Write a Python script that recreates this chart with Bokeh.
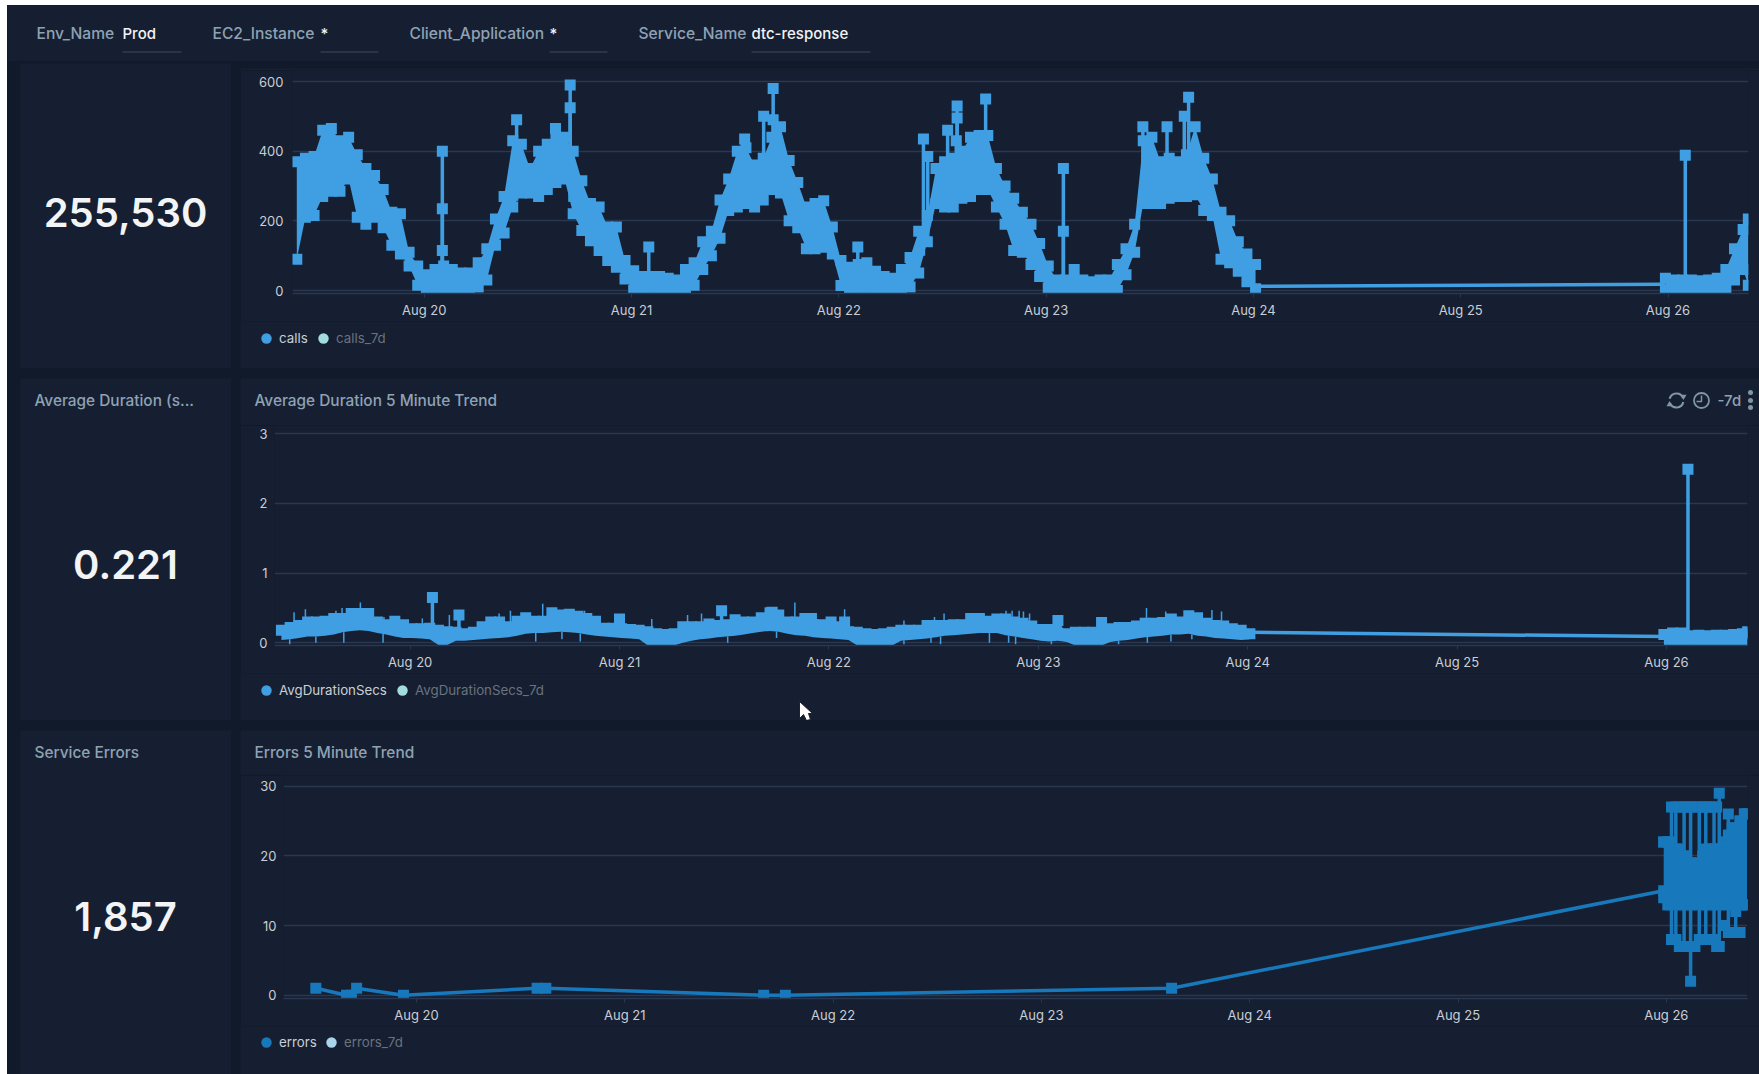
from datetime import datetime, timedelta
import numpy as np
from bokeh.embed import file_html
from bokeh.resources import INLINE
from bokeh.layouts import column, row
from bokeh.models import (Range1d, Label, FixedTicker, DatetimeTickFormatter, Legend, LegendItem)
from bokeh.plotting import figure

# ---- chart values ----
FILTER_NAMES = ["Env_Name", "EC2_Instance", "Client_Application", "Service_Name"]
FILTER_VALUES = ["Prod", "*", "*", "dtc-response"]
DAYS = [20, 21, 22, 23, 24, 25, 26]
STAT_VALUES = ["255,530", "0.221", "1,857"]

# hourly readings, first at Aug 19 09:15
calls_hi = [370,380,385,460,465,430,440,390,350,330,290,225,220,110,70,
 45,60,70,60,50,50,80,120,205,270,430,420,350,400,420,440,440,400,315,250,240,182,182,86,
 57,40,40,40,35,30,60,80,140,170,260,320,400,410,360,380,440,470,373,310,240,250,258,182,86,
 67,75,80,55,40,35,60,95,170,215,350,370,380,400,440,445,445,350,300,265,225,190,135,70,
 30,30,60,30,25,30,30,75,120,190,430,440,370,380,370,390,470,380,320,225,200,140,105,75,20][:112]
calls_lo = [90,210,215,270,285,285,320,210,190,210,180,130,105,70,15,
 0,0,0,0,0,5,10,30,130,165,240,280,280,270,290,310,320,220,172,143,115,86,67,33,
 0,0,0,0,0,0,5,15,60,100,150,230,240,250,240,260,290,280,200,180,120,120,124,105,14,
 0,5,0,0,0,0,0,10,50,140,250,240,240,265,270,290,290,240,190,115,110,75,40,8,
 0,0,0,0,0,0,0,0,45,110,250,250,250,265,270,270,275,230,215,90,80,55,25,5,3][:112]
calls_spike_hours = [2.1,2.1,2.1,10.7,15.2,16.9,16.9,26,37.1,39.3,40.4,40.4,50.2,57.8,58.3,60.6,61.7,61.7,61.6,65,
                     74,74,83.2,86,88.5,88.0]
calls_spike_tops = [400,235,115,490,465,590,525,125,435,500,490,580,125,435,385,460,530,495,430,550,
                    350,170,470,470,555,500]
calls_gap_hours = [96+0.25, 143.7]
calls_gap_vals = [12, 18]
aug26_hours = [-0.3,0.7,1.7,2.7,3.7,4.7,5.7,6.7,7.7,8.7,9.3]
calls26_hi = [35,30,30,30,28,30,35,60,120,175,205]
calls26_lo = [0,0,0,0,0,0,0,0,30,60,15]
calls26_spike_hour = [2.0]
calls26_spike_top = [388]

dur_hi = [.18,.22,.25,.30,.30,.31,.35,.35,.42,.42,.42,.30,.26,.31,.26,
 .20,.20,.21,.18,.16,.15,.13,.15,.23,.30,.30,.23,.31,.36,.31,.31,.43,.40,.41,.38,.35,.31,.21,.21,
 .20,.19,.18,.16,.13,.12,.13,.23,.23,.23,.27,.25,.26,.33,.30,.30,.36,.43,.40,.30,.30,.35,.26,.26,
 .30,.23,.16,.15,.13,.12,.13,.15,.18,.18,.18,.25,.25,.25,.26,.26,.35,.35,.31,.34,.34,.30,.28,.24,
 .19,.19,.32,.13,.15,.15,.15,.29,.20,.22,.22,.24,.28,.28,.29,.34,.30,.39,.36,.28,.25,.24,.20,.18,.13]
dur_lo = [.04,.05,.07,.09,.09,.10,.12,.15,.17,.18,.17,.14,.12,.09,.07,
 .07,.06,.05,-.03,-.03,.03,.03,.04,.05,.06,.07,.08,.10,.13,.14,.14,.15,.16,.15,.14,.12,.10,.09,.08,
 .07,.06,.05,-.04,-.04,-.04,-.04,.0,.03,.05,.06,.08,.09,.10,.12,.14,.16,.17,.16,.13,.11,.10,.08,.07,
 .06,.05,.04,-.04,-.04,-.04,-.04,-.04,.03,.04,.05,.06,.08,.10,.11,.12,.13,.14,.14,.14,.11,.09,.07,.05,
 .03,.02,.03,.01,-.04,-.04,-.04,-.04,.01,.03,.04,.06,.08,.09,.10,.12,.12,.13,.10,.09,.07,.06,.05,.04,.05]
dur_up_hours = [-13.3,-12,-8.5,-7.8,-5.7,-3,1.4,4.5,10.2,11.5,12.9,15.2,17.7,20,27.7,31.8,33.4,44.1,49.8,56.6,
                60.1,61.2,68.3,69,69.8,70.3,71,84.4,86.6,91.9,93]
dur_up_tops = [.44,.48,.46,.5,.58,.37,.35,.4,.42,.46,.42,.56,.48,.46,.34,.4,.42,.58,.48,.32,
               .37,.42,.46,.46,.46,.45,.42,.5,.45,.47,.45]
dur_down_hours = [-13.8,-10.8,-7.6,-3.1,14.4,17.4,19.5,36.4,42,56.6,59.7,60.8,66.4,68.6,69.4,73.5,76.2,81.2,84.5,87.2,89.6]
dur_down_vals = [-.02,0,0,0,.02,.05,.02,0,.07,-.02,0,-.02,0,0,-.02,-.02,-.02,-.02,0,.02,.05]
dur_mark_hours = [2.56,5.6,24,35.7,41.5,46,49.8]
dur_mark_vals = [.65,.40,.34,.46,.44,.35,.30]
dur_gap_hours = [96.25,143.7]
dur_gap_vals = [.15,.09]
dur26_hi = [.12,.14,.14,.10,.11,.10,.11,.11,.12,.13,.16]
dur26_spike_hour = [2.46]
dur26_spike_top = [2.49]

err_hours = [-11.6,-8.06,-7.5,-6.9,-1.5,13.9,14.9,40,42.5,87,143.7]
err_vals = [1,0,0,1,0,1,1,0,0,1,15]
err26_hours = [-0.3,0.2,0.6,1.1,1.5,2.05,2.4,2.8,3.3,3.8,4.2,4.55,5.0,5.5,5.8,6.1,6.6,7.15,7.6,8.0,8.5,9.0,9.3]
err26_hi = [22,22,27,27,27,27,27,27,27,27,27,27,27,27,27,29,22,26,24,24,25,26,26]
err26_lo = [15,13,8,8,7,7,7,2,7,8,8,8,8,8,7,7,10,9,9,9,9,13,13]
err26_core_hi = [22,22,22,21,21,20,18,19,18,19,20,21,21,21,21,21,22,23,24,24,25,26,26]
err26_core_lo = [14,13,13,13,13,13,13,13,13,13,13,13,13,13,13,13,13,13,13,12,13,13,13]
err26_stroke_hours = [0.6,1.1,2.05,2.8,3.8,4.55,5.5,6.1,7.15,8.0,9.0]

# ---- styling ----
GAP, PANEL = "#111a2a", "#161f31"
GRID = "#2a3750"
BLUE, DARKBLUE = "#409fe2", "#1779bb"
TICK, TITLE, MUTED = "#c9ced6", "#8ea2b4", "#69727f"
FONT = "Inter"
FONT_MED = "Inter Medium, Inter"
FONT_SEMI = "Inter SemiBold, Inter"
W_LEFT = 7; TOP = 5
MARK = 11
LW = 3.5
X0 = 240   # left edge of the chart panels
ICON = "#7f95a8"

START = datetime(2026, 8, 19, 9, 15)
AUG20 = datetime(2026, 8, 20)
AUG26 = datetime(2026, 8, 26)

def ms(d):
    return (d - datetime(1970, 1, 1)).total_seconds() * 1000

def h20(hours):
    return [AUG20 + timedelta(hours=float(h)) for h in hours]

def h26(hours):
    return [AUG26 + timedelta(hours=float(h)) for h in hours]

hourly = [START + timedelta(hours=i) for i in range(len(calls_hi))]

def panel_fig(x0, x1, y0, y1, **kw):
    """An axis-less figure whose data coordinates are the page's pixels."""
    p = figure(width=x1 - x0, height=y1 - y0, toolbar_location=None, output_backend="svg",
               background_fill_color=PANEL, border_fill_color=PANEL, outline_line_color=None,
               min_border=0, x_axis_location=None, y_axis_location=None,
               x_range=Range1d(x0, x1), y_range=Range1d(y1, y0), **kw)
    p.grid.visible = False
    p.frame_align = False
    return p

def txt(p, x, y, text, color=TITLE, size=15.4, align="left", font=FONT_MED, style="normal"):
    p.add_layout(Label(x=x, y=y, text=text, text_color=color, text_font_size=f"{size}px",
                       text_align=align, text_baseline="middle", text_font=font, text_font_style=style))

def chart(ft, fb, fl, fr, y0, yk, t20, per_day, yticks, ystand):
    p = figure(width=1759 - X0, height=fb + 28 - ft, x_axis_type="datetime",
               toolbar_location=None, output_backend="svg",
               background_fill_color=PANEL, border_fill_color=PANEL, outline_line_color=None,
               min_border_left=fl - X0, min_border_right=1759 - fr,
               min_border_top=0, min_border_bottom=28)
    p.frame_align = False
    p.x_range = Range1d(AUG20 + timedelta(days=(fl - t20) / per_day),
                        AUG20 + timedelta(days=(fr - t20) / per_day))
    p.y_range = Range1d((y0 - fb) / yk, (y0 - ft) / yk)
    p.xaxis.ticker = FixedTicker(ticks=[ms(datetime(2026, 8, d)) for d in DAYS])
    p.xaxis.formatter = DatetimeTickFormatter(days="%b %d", hours="%b %d", months="%b %d", years="%b %d")
    p.xaxis.major_label_text_color = TICK
    p.xaxis.major_label_text_font = FONT
    p.xaxis.major_label_text_font_size = "13px"
    p.xaxis.major_label_standoff = 4
    p.xaxis.axis_line_color = GRID
    p.xaxis.axis_line_width = 1.5
    p.xaxis.major_tick_line_color = GRID
    p.xaxis.major_tick_out = 4
    p.xaxis.major_tick_in = 0
    p.xaxis.minor_tick_line_color = None
    p.yaxis.ticker = FixedTicker(ticks=yticks)
    p.yaxis.major_label_text_color = TICK
    p.yaxis.major_label_text_font = FONT
    p.yaxis.major_label_text_font_size = "13px"
    p.yaxis.axis_line_color = None
    p.yaxis.major_tick_line_color = None
    p.yaxis.minor_tick_line_color = None
    p.yaxis.major_label_standoff = ystand
    p.xgrid.grid_line_color = None
    p.ygrid.grid_line_color = GRID
    p.ygrid.grid_line_width = 1.5
    return p

def legend(p, y1, x, y, name, color, label_color):
    # the point lies outside the strip's range: only the legend shows it
    r = p.scatter([-1000], [-1000], marker="circle", fill_color=color, line_color=None)
    lg = Legend(items=[LegendItem(label=name, renderers=[r])],
                location=(x - 13 - X0, y1 - (y + 13)), orientation="horizontal",
                glyph_width=26, glyph_height=26, label_standoff=0, padding=0, margin=0, spacing=0,
                background_fill_alpha=0, border_line_color=None,
                label_text_color=label_color, label_text_font=FONT, label_text_font_size="13.3px",
                label_height=14)
    p.add_layout(lg, "center")

def stat(yt, yb, cy, value, title=None, cx=125):
    p = panel_fig(20, 231, yt, yb, margin=(0, 0, 0, 20 - W_LEFT))
    p.add_layout(Label(x=cx, y=cy, text=value, text_color="#f2f4f6", text_font_size="40px",
                       text_align="center", text_baseline="middle", text_font=FONT_SEMI))
    if title:
        txt(p, 34, yt + 22, title)
    return p

def band(p, x, hi, lo, color, low_marks=True):
    p.varea(x=x, y1=lo, y2=hi, fill_color=color)
    p.scatter(x, hi, marker="square", size=MARK, fill_color=color, line_color=None)
    if low_marks:
        p.scatter(x, lo, marker="square", size=MARK, fill_color=color, line_color=None)

# ---- filter bar ----
bar = panel_fig(W_LEFT, 1759, TOP, 61)
name_x = [36, 212, 409, 638]
value_x = [122, 320, 549, 751]
value_end = [181, 378, 607, 870]
for nm, vl, nx, vx, ve in zip(FILTER_NAMES, FILTER_VALUES, name_x, value_x, value_end):
    txt(bar, nx, 33, nm, TITLE, 15.6)
    txt(bar, vx, 33, vl, "#f2f4f6", 15)
    bar.segment([vx], [51.5], [ve], [51.5], line_color="#3b4a60", line_width=1)

# ---- calls ----
p1 = chart(70, 293, 292, 1748, 290, 0.3483, 423.7, 207.3, [0, 200, 400, 600], 3)
band(p1, hourly, calls_hi, calls_lo, BLUE)
sp_t = h20(calls_spike_hours)
p1.segment(sp_t, np.interp(calls_spike_hours, np.arange(len(calls_hi)) - 14.75, calls_lo), sp_t, calls_spike_tops,
           line_color=BLUE, line_width=LW)
p1.scatter(sp_t, calls_spike_tops, marker="square", size=MARK, fill_color=BLUE, line_color=None)
p1.line(h20(calls_gap_hours), calls_gap_vals, line_color=BLUE, line_width=LW)
band(p1, h26(aug26_hours), calls26_hi, calls26_lo, BLUE)
p1.segment(h26(calls26_spike_hour), [0], h26(calls26_spike_hour), calls26_spike_top, line_color=BLUE, line_width=LW)
p1.scatter(h26(calls26_spike_hour), calls26_spike_top, marker="square", size=MARK, fill_color=BLUE, line_color=None)
t1 = panel_fig(X0, 1759, 63, 70)
b1 = panel_fig(X0, 1759, 321, 368)
legend(b1, 368, 266, 338, "calls", BLUE, TICK)
legend(b1, 368, 323, 338, "calls_7d", "#a3dcdc", MUTED)

# ---- duration ----
p2 = chart(425, 645, 274, 1747, 642.3, 69.67, 409.6, 209.4, [0, 1, 2, 3], 1)
band(p2, hourly, dur_hi, dur_lo, BLUE, low_marks=False)
idx = np.arange(len(dur_hi)) - 14.75
up_t = h20(dur_up_hours)
p2.segment(up_t, np.interp(dur_up_hours, idx, dur_hi), up_t, dur_up_tops, line_color=BLUE, line_width=1.5)
dn_t = h20(dur_down_hours)
p2.segment(dn_t, np.interp(dur_down_hours, idx, dur_lo), dn_t, dur_down_vals, line_color=BLUE, line_width=1.5)
mk_t = h20(dur_mark_hours)
p2.segment(mk_t, np.interp(dur_mark_hours, idx, dur_hi), mk_t, dur_mark_vals, line_color=BLUE, line_width=LW)
p2.scatter(mk_t, dur_mark_vals, marker="square", size=MARK, fill_color=BLUE, line_color=None)
p2.line(h20(dur_gap_hours), dur_gap_vals, line_color=BLUE, line_width=LW)
band(p2, h26(aug26_hours), dur26_hi, [-.04] * len(dur26_hi), BLUE, low_marks=False)
p2.segment(h26(dur26_spike_hour), [0], h26(dur26_spike_hour), dur26_spike_top, line_color=BLUE, line_width=LW)
p2.scatter(h26(dur26_spike_hour), dur26_spike_top, marker="square", size=MARK, fill_color=BLUE, line_color=None)
t2 = panel_fig(X0, 1759, 378, 425)
txt(t2, 254, 400, "Average Duration 5 Minute Trend")
txt(t2, 1717, 400, "-7d", TITLE, 15)
# refresh icon: two arcs with arrow heads
t2.arc(x=[1676, 1676], y=[400, 400], radius=7, start_angle=[0.35, 3.5], end_angle=[2.9, 6.05],
       line_color=ICON, line_width=2.2)
t2.scatter([1683, 1669], [396, 404], marker="triangle", size=6, angle=[3.14, 0], fill_color=ICON, line_color=None)
# clock icon
t2.circle(x=[1701], y=[400], radius=7.5, fill_color=None, line_color=ICON, line_width=1.8)
t2.multi_line([[1701, 1701, 1696]], [[395, 401, 401]], line_color=ICON, line_width=1.5)
# menu dots
t2.scatter([1750, 1750, 1750], [392, 400, 407], marker="circle", size=5, fill_color=ICON, line_color=None)
b2 = panel_fig(X0, 1759, 673, 720)
legend(b2, 720, 266, 690, "AvgDurationSecs", BLUE, TICK)
legend(b2, 720, 402, 690, "AvgDurationSecs_7d", "#a3dcdc", MUTED)
b2.patch([799, 799, 803, 806, 810, 808, 812], [701, 718, 714, 720, 719, 713, 713],
         fill_color="#ffffff", line_color="#222222", line_width=1)

# ---- errors ----
p3 = chart(775, 998, 283, 1747, 994.7, 6.967, 416, 208.3, [0, 10, 20, 30], 1)
p3.line(h20(err_hours), err_vals, line_color=DARKBLUE, line_width=LW)
p3.scatter(h20(err_hours[:-1]), err_vals[:-1], marker="square", size=MARK, fill_color=DARKBLUE, line_color=None)
e_t = h26(err26_hours)
p3.varea(x=e_t, y1=err26_core_lo, y2=err26_core_hi, fill_color=DARKBLUE)
s_t = h26(err26_stroke_hours)
p3.segment(s_t, [err26_lo[err26_hours.index(h)] for h in err26_stroke_hours],
           s_t, [err26_hi[err26_hours.index(h)] for h in err26_stroke_hours],
           line_color=DARKBLUE, line_width=LW)
for vals in (err26_hi, err26_lo, err26_core_lo, err26_core_hi):
    p3.scatter(e_t, vals, marker="square", size=MARK, fill_color=DARKBLUE, line_color=None)
t3 = panel_fig(X0, 1759, 730, 775)
txt(t3, 254, 752, "Errors 5 Minute Trend")
b3 = panel_fig(X0, 1759, 1026, 1074)
legend(b3, 1074, 266, 1042, "errors", DARKBLUE, TICK)
legend(b3, 1074, 331, 1042, "errors_7d", "#a8d5ea", MUTED)

# ---- page ----
s1 = stat(63, 368, 212, STAT_VALUES[0])
s2 = stat(378, 720, 564, STAT_VALUES[1], "Average Duration (s...")
s3 = stat(730, 1074, 916, STAT_VALUES[2], "Service Errors")
rows = []
for st, stack, top in ((s1, (t1, p1, b1), 2), (s2, (t2, p2, b2), 10), (s3, (t3, p3, b3), 10)):
    rows.append(row(st, column(*stack, spacing=0, margin=(0, 0, 0, X0 - 231)), spacing=0, margin=(top, 0, 0, 0)))
root = column(bar, *rows, spacing=0, margin=(TOP, 0, 0, W_LEFT),
              styles={"background-color": GAP})
html = file_html(root, INLINE)
open("out.html", "w").write(html)
